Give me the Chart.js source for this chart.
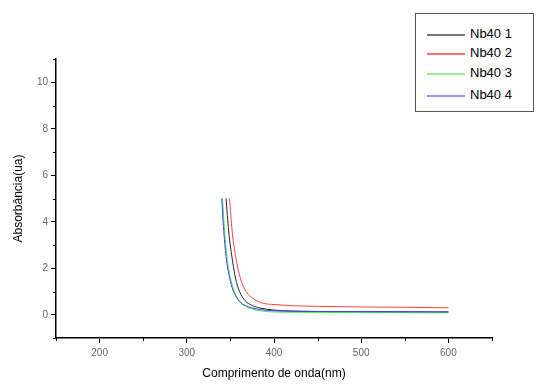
<!DOCTYPE html>
<html lang="pt">
<head>
    <meta charset="UTF-8">
    <title>Absorbância Nb40</title>
    <script src="https://cdn.jsdelivr.net/npm/chart.js"></script>
    <style>
        body{ margin:0; background:#fff; }
        .wrap{ position:relative; width:536px; height:385px; }
        .legend{
            position:absolute; left:415px; top:13px; width:119px; height:99px;
            border:1px solid #555; box-sizing:border-box; background:#fff;
            font-family:"Liberation Sans", Arial, sans-serif; font-size:13px; color:#000;
        }
        .legend .row{ position:absolute; left:11px; height:16px; line-height:16px; white-space:nowrap; }
        .legend .txt{ position:absolute; left:43px; top:0; }
        .legend .line{ position:absolute; left:0; top:8px; width:38px; height:2px; }
    </style>
</head>
<body>
    <div class="wrap">
        <canvas id="grafico" width="536" height="385"></canvas>
        <div class="legend" id="legenda"></div>
    </div>

<script>
    // dados
    let nomes = ["Nb40 1", "Nb40 2", "Nb40 3", "Nb40 4"];
    let cores = ["#222222", "#ff4040", "#40ee40", "#4040ff"];
    let coresLegenda = ["#777777", "#ff7070", "#90f090", "#9090ff"];

    let wlNb1 = [345, 348, 352.5, 356, 360.5, 367, 375, 385, 400, 420, 450, 500, 600];
    let absNb1 = [5.0, 3.6, 2.3, 1.55, 1.0, 0.6, 0.4, 0.28, 0.2, 0.16, 0.14, 0.13, 0.12];

    let wlNb2 = [349, 352, 357, 362, 368, 376, 387, 400, 414, 450, 550, 600];
    let absNb2 = [5.0, 3.6, 2.3, 1.5, 1.0, 0.7, 0.5, 0.44, 0.4, 0.36, 0.32, 0.3];

    let wlNb3 = [341, 343, 346, 350, 354, 358, 362, 368, 375, 386, 400, 450, 600];
    let absNb3 = [5.0, 3.8, 2.5, 1.6, 1.05, 0.72, 0.5, 0.35, 0.25, 0.16, 0.12, 0.1, 0.08];

    let wlNb4 = [340, 342, 345, 349, 353, 357, 361, 367, 374, 385, 400, 450, 600];
    let absNb4 = [5.0, 3.8, 2.5, 1.6, 1.05, 0.75, 0.55, 0.4, 0.3, 0.22, 0.17, 0.14, 0.12];

    let xTicks = [200, 300, 400, 500, 600];
    let yTicks = [0, 2, 4, 6, 8, 10];

    function pontos(xs, ys){
        return xs.map((x, i) => ({x: x, y: ys[i]}));
    }

    let series = [
        pontos(wlNb1, absNb1),
        pontos(wlNb2, absNb2),
        pontos(wlNb3, absNb3),
        pontos(wlNb4, absNb4)
    ];
    let ordem = [2, 3, 1, 0];

    // legenda em html
    let legenda = document.getElementById('legenda');
    let topos = [12, 31, 51, 73];
    nomes.forEach((n, i) => {
        let row = document.createElement('div');
        row.className = 'row';
        row.style.top = topos[i] + 'px';
        let linha = document.createElement('div');
        linha.className = 'line';
        linha.style.backgroundColor = coresLegenda[i];
        let txt = document.createElement('span');
        txt.className = 'txt';
        txt.textContent = n;
        row.appendChild(linha);
        row.appendChild(txt);
        legenda.appendChild(row);
    });

    // ticks menores
    let ticksMenores = {
        id: 'ticksMenores',
        afterDraw(chart){
            let ctx = chart.ctx;
            let x = chart.scales.x, y = chart.scales.y;
            ctx.save();
            ctx.strokeStyle = '#000';
            ctx.lineWidth = 1;
            for(let v = 150; v <= 650; v += 100){
                let px = Math.round(x.getPixelForValue(v)) + 0.5;
                ctx.beginPath();
                ctx.moveTo(px, y.bottom);
                ctx.lineTo(px, y.bottom + 3);
                ctx.stroke();
            }
            for(let v = -1; v <= 11; v += 2){
                let py = Math.round(y.getPixelForValue(v)) + 0.5;
                ctx.beginPath();
                ctx.moveTo(x.left, py);
                ctx.lineTo(x.left - 3, py);
                ctx.stroke();
            }
            ctx.restore();
        }
    };

    let fonteTick = { family: '"Liberation Sans", Arial, sans-serif', size: 10 };
    let fonteTitulo = { family: '"Liberation Sans", Arial, sans-serif', size: 12 };

    let grafico = new Chart(document.getElementById('grafico'), {
        type: 'scatter',
        data: {
            datasets: series.map((s, i) => ({
                label: nomes[i],
                data: s,
                showLine: true,
                borderColor: cores[i],
                borderWidth: 1,
                pointRadius: 0,
                cubicInterpolationMode: 'monotone',
                order: ordem[i]
            }))
        },
        options: {
            responsive: false,
            animation: false,
            layout: { padding: { top: 59, right: 44, left: 0, bottom: 0 } },
            plugins: {
                legend: { display: false },
                tooltip: { enabled: false }
            },
            scales: {
                x: {
                    type: 'linear',
                    min: 150,
                    max: 650,
                    afterBuildTicks: s => { s.ticks = xTicks.map(v => ({value: v})); },
                    afterFit: s => { s.height = 47; },
                    ticks: { color: '#666', font: fonteTick, padding: 4, maxRotation: 0 },
                    grid: { drawOnChartArea: false, drawTicks: true, tickLength: 5, color: '#000' },
                    border: { display: true, color: '#000', width: 1.5 },
                    title: { display: true, text: 'Comprimento de onda(nm)', color: '#000', font: fonteTitulo, padding: { top: 9 } }
                },
                y: {
                    min: -1,
                    max: 11,
                    afterBuildTicks: s => { s.ticks = yTicks.map(v => ({value: v})); },
                    afterFit: s => { s.width = 56; },
                    ticks: { color: '#666', font: fonteTick, padding: 3 },
                    grid: { drawOnChartArea: false, drawTicks: true, tickLength: 5, color: '#000' },
                    border: { display: true, color: '#000', width: 1.5 },
                    title: { display: true, text: 'Absorbância(ua)', color: '#000', font: fonteTitulo, padding: { top: 11, bottom: 0 } }
                }
            }
        },
        plugins: [ticksMenores]
    });
</script>
</body>
</html>
